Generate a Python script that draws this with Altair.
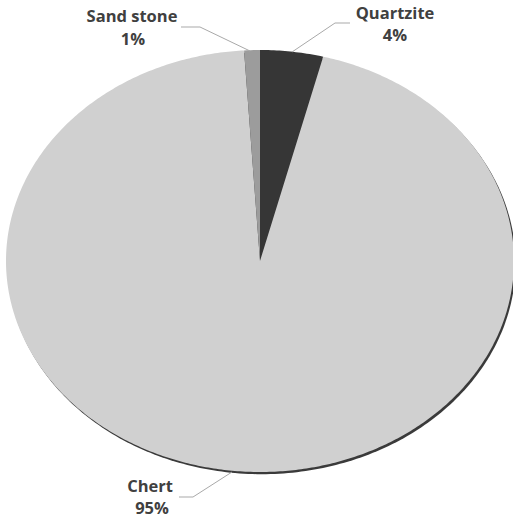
import altair as alt
import numpy as np
import pandas as pd

# Raw material composition (percent of assemblage)
materials = ["Quartzite", "Chert", "Sand stone"]
shares = [4, 95, 1]
fills = ["#363636", "#d0d0d0", "#9c9c9c"]

# Pie drawn as a flattened (elliptical) disc, pixel space of the canvas
CX, CY, RX, RY = 260.0, 261.0, 254.0, 211.0
W, H = 513, 521

# Label layout: name anchor, percent anchor, leader polyline
label_layout = {
    "Quartzite": {"name": (395, 14), "pct": (395, 36),
                  "leader": [(350, 23), (335, 23), (292, 52)]},
    "Chert": {"name": (150, 487), "pct": (152, 509),
              "leader": [(179, 497), (193, 497), (232, 472)]},
    "Sand stone": {"name": (132, 17), "pct": (133, 40),
                   "leader": [(181, 27), (200, 27), (250, 51)]},
}


def rim_point(frac, dx=0.0, dy=0.0):
    t = 2 * np.pi * frac
    return [float(CX + dx + RX * np.sin(t)), float(CY + dy - RY * np.cos(t))]


total = float(sum(shares))
slices = []
start = 0.0
for name, share in zip(materials, shares):
    f0, f1 = start / total, (start + share) / total
    n = max(4, int(share * 6))
    ring = [[CX, CY]] + [rim_point(f) for f in np.linspace(f0, f1, n)] + [[CX, CY]]
    slices.append({"type": "Feature", "properties": {"material": name},
                   "geometry": {"type": "Polygon", "coordinates": [ring]}})
    start += share

# dark rim along the lower right, like a soft drop shadow
shadow_ring = [rim_point(f, 1.6, 2.2) for f in np.linspace(0, 1, 361)]
shadow = [{"type": "Feature", "properties": {"material": "rim"},
           "geometry": {"type": "Polygon", "coordinates": [shadow_ring]}}]

leaders = [{"type": "Feature", "properties": {"material": m},
            "geometry": {"type": "LineString",
                         "coordinates": [[float(a), float(b)] for a, b in label_layout[m]["leader"]]}}
           for m in materials]

label_rows = []
for name, share in zip(materials, shares):
    lay = label_layout[name]
    label_rows.append({"x": lay["name"][0], "y": lay["name"][1], "text": name})
    label_rows.append({"x": lay["pct"][0], "y": lay["pct"][1], "text": f"{share}%"})
labels = pd.DataFrame(label_rows)

proj = dict(type="identity", scale=1, translate=[0, 0])


def features_data(feats):
    return alt.InlineData(values={"type": "FeatureCollection", "features": feats},
                          format=alt.DataFormat(property="features", type="json"))


rim_layer = alt.Chart(features_data(shadow)).mark_geoshape(
    fill="#3a3a3a", strokeWidth=0
).encode(detail="properties.material:N").project(**proj)

slice_layer = alt.Chart(features_data(slices)).mark_geoshape(
    strokeWidth=0
).encode(
    fill=alt.Fill("properties.material:N",
                  scale=alt.Scale(domain=materials, range=fills), legend=None)
).project(**proj)

leader_layer = alt.Chart(features_data(leaders)).mark_geoshape(
    filled=False, stroke="#a9a9a9", strokeWidth=1
).encode(detail="properties.material:N").project(**proj)

text_layer = alt.Chart(labels).mark_text(
    font="Open Sans", fontWeight="bold", fontSize=16.5, color="#404040",
    align="center", baseline="middle"
).encode(
    longitude="x:Q", latitude="y:Q", text="text:N"
).project(**proj)

chart = alt.layer(rim_layer, slice_layer, leader_layer, text_layer).properties(
    width=W, height=H, padding=0, autosize=alt.AutoSizeParams(type="none")
).configure_view(stroke=None)

chart.save("out.html", embed_options={"renderer": "svg", "actions": False})
